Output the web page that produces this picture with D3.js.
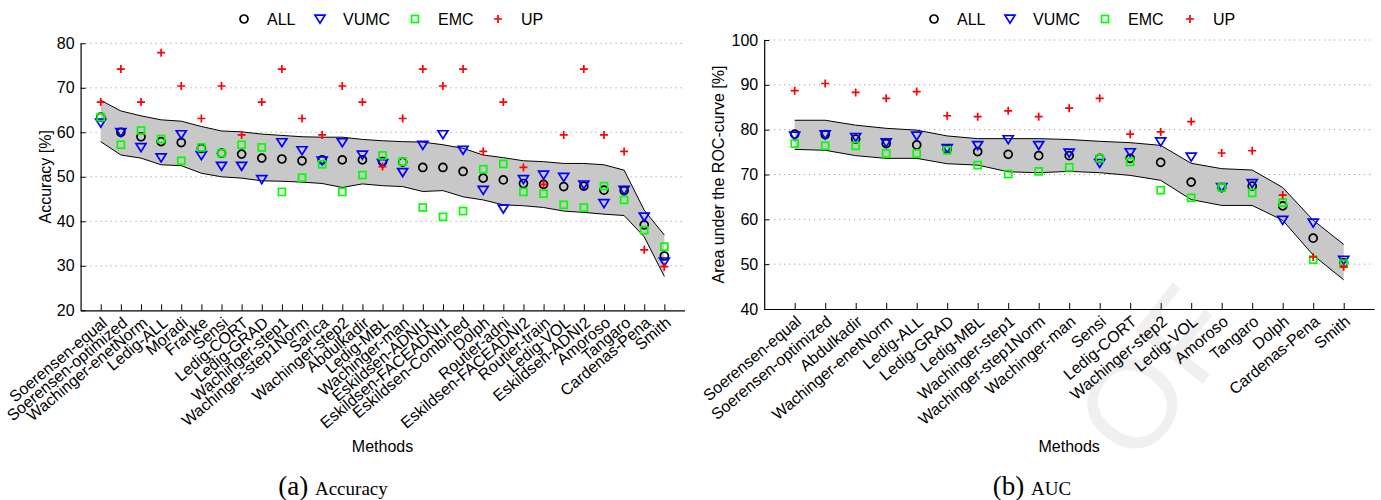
<!DOCTYPE html>
<html>
<head>
<meta charset="utf-8">
<script src="https://cdn.jsdelivr.net/npm/d3@7"></script>
<style>
  body { margin: 0; background: #fff; }
  svg text { font-family: "Liberation Sans", Arial, sans-serif; }
</style>
</head>
<body>
<div id="chart"></div>
<script>
// ---- data: accuracy panel ----
var accMethods = ["Soerensen-equal", "Soerensen-optimized", "Wachinger-enetNorm", "Ledig-ALL", "Moradi", "Franke",
    "Sensi", "Ledig-CORT", "Ledig-GRAD", "Wachinger-step1", "Wachinger-step1Norm", "Sarica", "Wachinger-step2",
    "Abdulkadir", "Ledig-MBL", "Wachinger-man", "Eskildsen-ADNI1", "Eskildsen-FACEADNI1", "Eskildsen-Combined",
    "Dolph", "Routier-adni", "Eskildsen-FACEADNI2", "Routier-train", "Ledig-VOL", "Eskildsen-ADNI2", "Amoroso",
    "Tangaro", "Cardenas-Pena", "Smith"];
var accALL = [63.4, 60.0, 59.0, 57.9, 57.7, 56.4, 55.3, 55.1, 54.2, 54.0, 53.6, 53.8, 53.8, 53.8, 53.4, 53.3,
    52.1, 52.1, 51.2, 49.7, 49.3, 48.5, 48.3, 47.8, 47.9, 47.0, 46.9, 39.2, 32.2];
var accVUMC = [62.1, 60.0, 56.6, 54.3, 59.5, 54.8, 52.4, 52.4, 49.4, 57.7, 55.9, 53.6, 57.7, 54.9, 53.0, 51.0,
    57.1, 59.5, 56.0, 47.0, 42.8, 49.4, 50.4, 49.9, 48.2, 44.0, 47.0, 41.0, 30.9];
var accEMC = [63.4, 57.2, 60.4, 58.5, 53.6, 56.6, 55.3, 57.2, 56.6, 46.6, 49.8, 52.8, 46.6, 50.4, 54.8, 53.4,
    43.1, 41.0, 42.3, 51.7, 52.9, 46.6, 46.2, 43.7, 43.1, 47.9, 44.8, 38.0, 34.3];
var accUP = [66.8, 74.2, 66.8, 77.9, 70.4, 63.1, 70.4, 59.4, 66.8, 74.2, 63.1, 59.4, 70.4, 66.8, 52.3, 63.1,
    74.2, 70.4, 74.2, 55.7, 66.8, 52.1, 48.3, 59.4, 74.2, 59.4, 55.7, 33.6, 29.8];
var accHigh = [67.2, 64.8, 63.7, 62.8, 62.5, 61.3, 60.3, 60.1, 59.6, 59.3, 59.0, 58.9, 58.9, 58.4, 58.1, 57.9,
    57.8, 57.2, 56.4, 54.9, 54.3, 53.6, 53.4, 53.0, 53.0, 52.7, 51.5, 42.5, 36.9];
var accLow = [57.9, 54.9, 54.2, 52.7, 52.5, 50.8, 50.0, 49.7, 49.1, 49.0, 48.8, 48.5, 47.6, 48.4, 48.0, 47.8,
    46.7, 46.9, 45.5, 44.8, 43.7, 43.5, 43.1, 42.3, 42.0, 41.6, 41.3, 36.5, 27.6];
var accTicks = [20, 30, 40, 50, 60, 70, 80];

// ---- data: AUC panel ----
var aucMethods = ["Soerensen-equal", "Soerensen-optimized", "Abdulkadir", "Wachinger-enetNorm", "Ledig-ALL",
    "Ledig-GRAD", "Ledig-MBL", "Wachinger-step1", "Wachinger-step1Norm", "Wachinger-man", "Sensi", "Ledig-CORT",
    "Wachinger-step2", "Ledig-VOL", "Amoroso", "Tangaro", "Dolph", "Cardenas-Pena", "Smith"];
var aucALL = [79.0, 78.9, 77.9, 76.9, 76.6, 75.6, 75.1, 74.5, 74.2, 74.2, 73.6, 73.6, 72.7, 68.3, 67.1, 67.4,
    63.0, 55.8, 50.3];
var aucVUMC = [78.6, 78.9, 78.3, 77.1, 78.6, 75.8, 76.5, 77.8, 76.5, 74.8, 72.5, 74.9, 77.3, 73.9, 67.1, 68.0,
    59.8, 59.2, 50.9];
var aucEMC = [76.9, 76.4, 76.4, 74.7, 74.7, 75.4, 72.1, 70.1, 70.7, 71.6, 73.6, 72.8, 66.5, 64.8, 67.1, 65.9,
    63.7, 51.0, 50.1];
var aucUP = [88.7, 90.3, 88.3, 87.0, 88.5, 83.1, 82.9, 84.2, 82.9, 84.8, 87.0, 79.0, 79.5, 81.8, 74.8, 75.3,
    65.4, 51.6, 49.4];
var aucHigh = [82.1, 82.1, 81.0, 80.3, 79.9, 78.6, 78.0, 78.0, 78.0, 77.8, 77.4, 77.1, 76.5, 72.5, 71.3, 71.0,
    67.1, 59.8, 54.4];
var aucLow = [75.6, 75.4, 74.2, 73.6, 73.6, 72.4, 72.1, 70.6, 70.4, 70.7, 70.4, 69.8, 68.7, 64.4, 63.1, 63.1,
    59.8, 52.0, 46.5];
var aucTicks = [40, 50, 60, 70, 80, 90, 100];

var seriesNames = ["ALL", "VUMC", "EMC", "UP"];

var svg = d3.select("#chart")
    .append("svg")
    .attr("width", 1381)
    .attr("height", 500);

// faint proof watermark (drawn first, sits behind everything)
svg.append("text")
    .attr("transform", "translate(1190,400) rotate(-52)")
    .attr("text-anchor", "middle")
    .style("font-size", "125px")
    .attr("fill", "#f0f0f0")
    .text("OF");

// marker shapes, one per series
function drawMarker(g, kind) {
    if (kind == "ALL") {
        g.append("circle").attr("r", 4).attr("fill", "none").attr("stroke", "#000").attr("stroke-width", 1.7);
    } else if (kind == "VUMC") {
        g.append("path").attr("d", "M-5,-3.8L5,-3.8L0,4.2Z").attr("fill", "none")
            .attr("stroke", "#0000ff").attr("stroke-width", 1.7);
    } else if (kind == "EMC") {
        g.append("rect").attr("x", -3.5).attr("y", -3.5).attr("width", 7).attr("height", 7)
            .attr("fill", "none").attr("stroke", "#00ff00").attr("stroke-width", 1.7);
    } else {
        g.append("path").attr("d", "M-4,0L4,0M0,-4L0,4").attr("stroke", "#ff0000").attr("stroke-width", 1.7);
    }
}

function drawPanel(p) {
    var x = d3.scaleLinear().domain([0, p.methods.length + 1]).range([p.left, p.right]);
    var y = d3.scaleLinear().domain([p.ticks[0], p.ticks[p.ticks.length - 1]]).range([p.bottom, p.top]);
    var g = svg.append("g");

    // dotted grid
    g.selectAll(".grid")
        .data(p.ticks.slice(1))
        .join("line")
        .attr("x1", p.left).attr("x2", p.right)
        .attr("y1", function (d) { return y(d) }).attr("y2", function (d) { return y(d) })
        .attr("stroke", "#8c8c8c")
        .attr("stroke-width", 1)
        .style("stroke-dasharray", "1,4");

    // band
    var idx = d3.range(p.methods.length);
    g.append("path")
        .datum(idx)
        .attr("fill", "#c8c8c8")
        .attr("d", d3.area()
            .x(function (i) { return x(i + 1) })
            .y0(function (i) { return y(p.low[i]) })
            .y1(function (i) { return y(p.high[i]) }));
    [p.low, p.high].forEach(function (arr) {
        g.append("path")
            .datum(idx)
            .attr("fill", "none")
            .attr("stroke", "#000")
            .attr("stroke-width", 1)
            .attr("d", d3.line()
                .x(function (i) { return x(i + 1) })
                .y(function (i) { return y(arr[i]) }));
    });

    // axes
    var yAxis = d3.axisLeft(y).tickValues(p.ticks).tickSizeInner(-5).tickSizeOuter(0).tickPadding(6);
    var ya = g.append("g")
        .attr("transform", "translate(" + p.left + ",0)")
        .call(yAxis);
    var xAxis = d3.axisBottom(x).tickValues(d3.range(1, p.methods.length + 1))
        .tickSizeInner(-6).tickSizeOuter(0).tickFormat("");
    var xa = g.append("g")
        .attr("transform", "translate(0," + p.bottom + ")")
        .call(xAxis);
    [ya, xa].forEach(function (a) {
        a.select(".domain").attr("stroke", "#000").attr("stroke-width", 1.2);
        a.selectAll(".tick line").attr("stroke", "#000");
        a.selectAll("text").style("font-size", "16px").attr("fill", "#000");
    });

    // rotated category labels
    g.selectAll(".catlabel")
        .data(p.methods)
        .join("text")
        .attr("text-anchor", "end")
        .attr("transform", function (d, i) { return "translate(" + (x(i + 1) + 4) + "," + (p.bottom + 10) + ") rotate(-40)" })
        .attr("dy", "0.35em")
        .style("font-size", "16px")
        .text(function (d) { return d });

    // points
    var values = { ALL: p.all, VUMC: p.vumc, EMC: p.emc, UP: p.up };
    seriesNames.forEach(function (s) {
        values[s].forEach(function (v, i) {
            var m = g.append("g").attr("transform", "translate(" + x(i + 1) + "," + y(v) + ")");
            drawMarker(m, s);
        });
    });

    // axis titles
    g.append("text")
        .attr("transform", "translate(" + p.yLabelX + "," + ((p.top + p.bottom) / 2) + ") rotate(-90)")
        .attr("text-anchor", "middle")
        .attr("dy", "0.35em")
        .style("font-size", "16px")
        .text(p.yLabel);
    g.append("text")
        .attr("x", (p.left + p.right) / 2)
        .attr("y", 452)
        .attr("text-anchor", "middle")
        .style("font-size", "16px")
        .text("Methods");

    // legend
    var lg = g.append("g").attr("transform", "translate(" + p.legendX + ",19)");
    seriesNames.forEach(function (s, i) {
        var item = lg.append("g").attr("transform", "translate(" + p.legendOffsets[i] + ",0)");
        drawMarker(item, s);
        item.append("text").attr("x", 23).attr("dy", "0.35em").style("font-size", "16px").text(s);
    });

    // caption
    var cap = svg.append("text")
        .attr("x", p.captionX)
        .attr("y", 495)
        .attr("text-anchor", "middle")
        .style("font-family", "'Liberation Serif', 'Times New Roman', serif");
    cap.append("tspan").style("font-size", "27px").text(p.captionA + " ");
    cap.append("tspan").style("font-size", "19px").text(p.captionB);
}

drawPanel({
    methods: accMethods, all: accALL, vumc: accVUMC, emc: accEMC, up: accUP, low: accLow, high: accHigh,
    ticks: accTicks, left: 80.6, right: 684.5, top: 43.3, bottom: 310.3,
    yLabel: "Accuracy [%]", yLabelX: 45,
    legendX: 244, legendOffsets: [0, 76, 171, 254],
    captionX: 333, captionA: "(a)", captionB: "Accuracy"
});

drawPanel({
    methods: aucMethods, all: aucALL, vumc: aucVUMC, emc: aucEMC, up: aucUP, low: aucLow, high: aucHigh,
    ticks: aucTicks, left: 764.2, right: 1374.2, top: 40, bottom: 309,
    yLabel: "Area under the ROC-curve [%]", yLabelX: 718,
    legendX: 934, legendOffsets: [0, 76, 171, 256],
    captionX: 1032, captionA: "(b)", captionB: "AUC"
});
</script>
</body>
</html>
